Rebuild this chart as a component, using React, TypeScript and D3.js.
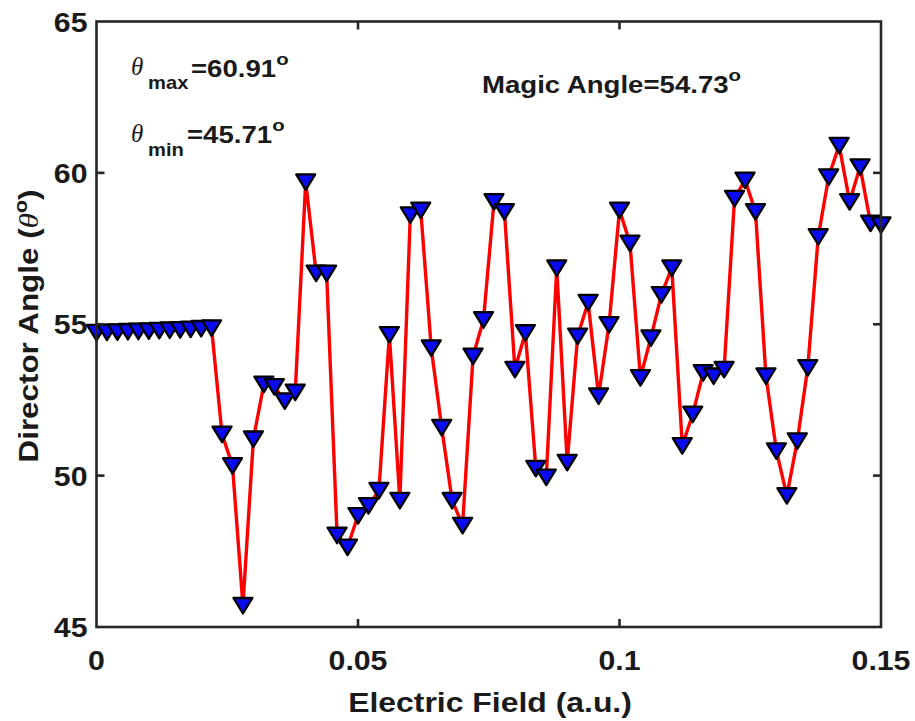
import React from 'react';
import * as d3 from 'd3';

// electric field (a.u.) and director angle (deg)
const fieldValues = [
  0, 0.002, 0.004, 0.006, 0.008, 0.01, 0.012, 0.014, 0.016, 0.018,
  0.02, 0.022, 0.024, 0.026, 0.028, 0.03, 0.032, 0.034, 0.036, 0.038,
  0.04, 0.042, 0.044, 0.046, 0.048, 0.05, 0.052, 0.054, 0.056, 0.058,
  0.06, 0.062, 0.064, 0.066, 0.068, 0.07, 0.072, 0.074, 0.076, 0.078,
  0.08, 0.082, 0.084, 0.086, 0.088, 0.09, 0.092, 0.094, 0.096, 0.098,
  0.1, 0.102, 0.104, 0.106, 0.108, 0.11, 0.112, 0.114, 0.116, 0.118,
  0.12, 0.122, 0.124, 0.126, 0.128, 0.13, 0.132, 0.134, 0.136, 0.138,
  0.14, 0.142, 0.144, 0.146, 0.148, 0.15,
];
const angleValues = [
  54.73, 54.74, 54.75, 54.76, 54.77, 54.78, 54.8, 54.81, 54.82, 54.84,
  54.86, 54.88, 51.37, 50.33, 45.71, 51.21, 53.02, 52.94, 52.47, 52.76,
  59.7, 56.69, 56.69, 48.03, 47.64, 48.68, 49.01, 49.51, 54.66, 49.18,
  58.61, 58.77, 54.22, 51.59, 49.18, 48.36, 53.95, 55.15, 59.05, 58.72,
  53.51, 54.72, 50.24, 49.95, 56.86, 50.44, 54.61, 55.72, 52.63, 54.99,
  58.77, 57.68, 53.24, 54.55, 55.98, 56.86, 50.99, 52.03, 53.4, 53.29,
  53.51, 59.16, 59.76, 58.72, 53.29, 50.82, 49.34, 51.15, 53.57, 57.89,
  59.87, 60.91, 59.05, 60.2, 58.34, 58.28,
];
const xTicks = [0, 0.05, 0.1, 0.15];
const xTickLabels = ['0', '0.05', '0.1', '0.15'];
const yTicks = [45, 50, 55, 60, 65];
const yTickLabels = ['45', '50', '55', '60', '65'];
const maxLabel = '=60.91';
const minLabel = '=45.71';
const magicLabel = 'Magic Angle=54.73';

const W = 915;
const H = 721;
const margin = { left: 96.5, right: 34, top: 21.5, bottom: 94 };
const axisColor = '#262626';
const sans = "'Liberation Sans', Arial, Helvetica, sans-serif";
const serif = "'Liberation Serif', 'Times New Roman', serif";
const WIDE = 1.12;

// text a little wider than the font, like the original render
const T = ({ x, y, size, anchor = 'start', sx = WIDE, italic = false, font = sans, weight = 'bold', children }: any) => (
  <g transform={`translate(${x},${y}) scale(${sx},1)`}>
    <text
      x={0}
      y={0}
      fontSize={size}
      fontFamily={font}
      fontWeight={weight}
      fontStyle={italic ? 'italic' : 'normal'}
      textAnchor={anchor}
      fill="#1a1a1a"
    >
      {children}
    </text>
  </g>
);

export default function App() {
  const x = d3.scaleLinear().domain([0, 0.15]).range([margin.left, W - margin.right]);
  const y = d3.scaleLinear().domain([45, 65]).range([H - margin.bottom, margin.top]);
  const points = fieldValues.map((f, i) => [x(f), y(angleValues[i])] as [number, number]);
  const linePath = d3.line()(points) || '';

  // downward triangle marker
  const mw = 9.5;
  const mt = 7.5;
  const mb = 8;
  const tri = `M${-mw},${-mt}L${mw},${-mt}L0,${mb}Z`;

  const x0 = x(0);
  const x1 = x(0.15);
  const y0 = y(45);
  const y1 = y(65);
  const tickLen = 8;

  return (
    <svg width={W} height={H} style={{ position: 'absolute', left: 0, top: 0, background: '#fff' }}>
      <rect x={0} y={0} width={W} height={H} fill="#fff" />

      {/* data */}
      <path d={linePath} fill="none" stroke="#ff0000" strokeWidth={3.4} strokeLinejoin="round" />
      {points.map((p, i) => (
        <path key={i} d={tri} transform={`translate(${p[0]},${p[1]})`} fill="#0a0af0" stroke="#000" strokeWidth={2.3} strokeLinejoin="round" />
      ))}

      {/* box and ticks */}
      <rect x={x0} y={y1} width={x1 - x0} height={y0 - y1} fill="none" stroke={axisColor} strokeWidth={2.6} />
      {xTicks.slice(1, -1).map((t) => (
        <g key={'xt' + t}>
          <line x1={x(t)} x2={x(t)} y1={y0} y2={y0 - tickLen} stroke={axisColor} strokeWidth={2.6} />
          <line x1={x(t)} x2={x(t)} y1={y1} y2={y1 + tickLen} stroke={axisColor} strokeWidth={2.6} />
        </g>
      ))}
      {yTicks.slice(1, -1).map((t) => (
        <g key={'yt' + t}>
          <line x1={x0} x2={x0 + tickLen} y1={y(t)} y2={y(t)} stroke={axisColor} strokeWidth={2.6} />
          <line x1={x1} x2={x1 - tickLen} y1={y(t)} y2={y(t)} stroke={axisColor} strokeWidth={2.6} />
        </g>
      ))}

      {xTicks.map((t, i) => (
        <T key={'xl' + t} x={x(t)} y={y0 + 43} size={28} anchor="middle" sx={1.08}>{xTickLabels[i]}</T>
      ))}
      {yTicks.map((t, i) => (
        <T key={'yl' + t} x={x0 - 9} y={y(t) + 10} size={28} anchor="end" sx={1.08}>{yTickLabels[i]}</T>
      ))}

      {/* axis titles */}
      <T x={490} y={712} size={28} anchor="middle" sx={1.14}>Electric Field (a.u.)</T>
      <g transform={`translate(38,326) rotate(-90) scale(${WIDE},1)`}>
        <text x={0} y={0} fontSize={28} fontFamily={sans} fontWeight="bold" textAnchor="middle" fill="#1a1a1a">
          Director Angle (
          <tspan fontFamily={serif} fontStyle="italic" fontWeight="normal">θ</tspan>
          <tspan fontSize={19} dy={-11}>o</tspan>
          <tspan dy={11}>)</tspan>
        </text>
      </g>

      {/* annotations */}
      <T x={131} y={75} size={25} italic font={serif} weight="normal" sx={1}>θ</T>
      <T x={148} y={89} size={18}>max</T>
      <T x={191} y={77} size={23} sx={1.2}>
        {maxLabel}
        <tspan fontSize={17} dy={-12}>o</tspan>
      </T>
      <T x={131} y={142} size={25} italic font={serif} weight="normal" sx={1}>θ</T>
      <T x={148} y={156} size={18}>min</T>
      <T x={187} y={143} size={23} sx={1.2}>
        {minLabel}
        <tspan fontSize={17} dy={-12}>o</tspan>
      </T>
      <T x={482} y={93} size={23} sx={1.2}>
        {magicLabel}
        <tspan fontSize={17} dy={-12}>o</tspan>
      </T>
    </svg>
  );
}
